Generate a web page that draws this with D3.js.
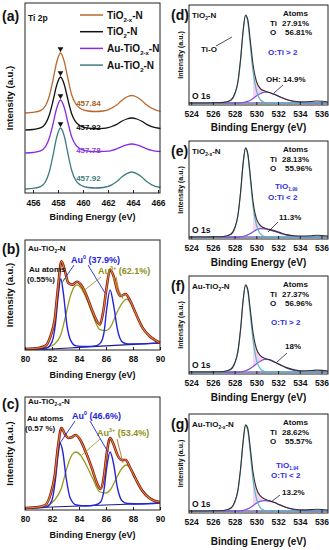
<!DOCTYPE html>
<html>
<head>
<meta charset="utf-8">
<script src="https://cdn.jsdelivr.net/npm/d3@7"></script>
<style>
  body { margin: 0; background: #fff; }
  text { font-family: "Liberation Sans", Arial, sans-serif; font-weight: bold; }
</style>
</head>
<body>
<svg id="fig" width="329" height="550"></svg>
<script>
// ---- panel (a): Ti 2p spectra, stacked ----
const tiEnergy = [455.4, 456.0, 456.6, 457.0, 457.3, 457.6, 457.9, 458.2, 458.5, 458.8, 459.1, 459.4, 459.8, 460.4, 461.0, 461.6, 462.0, 462.3, 462.7, 463.1, 463.5, 463.9, 464.3, 464.7, 465.1, 465.5, 466.2];
const tiO2xN = [80, 80.6, 82.4, 87.2, 96.8, 113, 131, 140, 131.5, 114, 98, 89.5, 84.5, 82, 81.5, 82, 83.2, 85, 88, 92.5, 96, 97.5, 96, 92.5, 88, 84.8, 81.5];
const tiO2N = [63, 63.5, 65.1, 69.4, 77.8, 92, 108, 116, 108.5, 93, 79, 71.4, 67, 64.8, 64.3, 64.6, 65.3, 66.5, 68.6, 71.7, 74, 75, 74, 71.7, 68.6, 66.4, 64.5];
const auTiO2xN = [40, 40.5, 42.1, 46.4, 54.8, 69, 85, 93, 85.5, 70, 56, 48.4, 44, 41.8, 41.3, 41.6, 41.8, 42.6, 44.2, 46.4, 48.2, 49, 48.2, 46.4, 44.2, 42.6, 41.3];
const auTiO2N = [4, 4.6, 6.4, 11.3, 21, 37.5, 56, 65, 57, 39, 22.5, 13, 8, 5.5, 5, 5.5, 6.6, 8.2, 11.4, 15.9, 19.4, 21, 19.4, 15.9, 11.4, 8.2, 5.5];
const tiPeakLabels = ["457.84", "457.92", "457.78", "457.92"];
const tiTicks = [456, 458, 460, 462, 464, 466];

// ---- panels (b), (c): Au 4f, [eV, intensity] ----
const bExp = [[80,1],[81,2],[81.5,4],[81.9,14],[82.2,30],[82.45,62],[82.7,87],[82.95,78],[83.2,66],[83.5,64],[83.85,67],[84.2,63],[84.6,52],[85.0,38],[85.3,29],[85.55,25],[85.8,38],[86.05,62],[86.3,79],[86.55,73],[86.85,58],[87.1,53],[87.45,55],[87.8,48],[88.2,36],[88.7,22],[89.2,14],[89.6,10],[90,7]];
const bAu0 = [[80,1],[81,1.2],[81.6,2],[82.0,8],[82.25,25],[82.45,52],[82.65,70],[82.85,55],[83.1,25],[83.4,9],[83.8,4],[84.5,3.5],[85.2,4],[85.6,7],[85.85,17],[86.05,40],[86.3,59],[86.55,45],[86.85,20],[87.2,8],[87.6,6],[88.5,6],[90,7]];
const bAu3 = [[80,1],[81,1.2],[81.6,2.5],[82.2,6],[82.7,17],[83.0,33],[83.3,50],[83.6,61],[83.85,64],[84.2,60],[84.6,49],[85.0,35],[85.55,20],[86.0,19],[86.3,22],[86.85,38],[87.2,46],[87.5,50],[87.8,47],[88.2,36],[88.7,23],[89.2,14],[90,8]];
const bBase = [[80,0.5],[82,1],[84,2.5],[86,4],[88,5.5],[90,7]];

const cExp = [[80,2],[81,3],[81.5,5],[81.9,16],[82.2,34],[82.45,64],[82.7,82],[82.95,76],[83.2,72],[83.5,73],[83.75,75],[84.1,70],[84.5,58],[85.0,40],[85.3,28],[85.6,21],[85.85,34],[86.05,56],[86.3,72],[86.55,66],[86.85,55],[87.15,50],[87.45,50],[87.8,42],[88.2,31],[88.7,19],[89.2,12],[89.6,9],[90,8]];
const cAu0 = [[80,2],[81,2.2],[81.6,3],[82.0,10],[82.25,30],[82.45,55],[82.6,67],[82.8,58],[83.05,32],[83.35,12],[83.8,5],[84.5,4],[85.2,5],[85.6,8],[85.85,20],[86.05,42],[86.3,58],[86.55,47],[86.85,22],[87.2,9],[87.6,6.5],[88.5,6],[90,7]];
const cAu3 = [[80,2],[81,2.3],[81.6,4],[82.2,10],[82.7,22],[83.0,37],[83.3,50],[83.6,57],[83.8,58],[84.1,55],[84.5,46],[85.0,32],[85.55,18],[86.0,17],[86.3,20],[86.85,34],[87.2,42],[87.5,45],[87.8,42],[88.2,32],[88.7,20],[89.2,13],[90,8]];
const cBase = [[80,2],[82,3],[84,4],[86,5],[88,6],[90,7]];
const auTicks = [80, 82, 84, 86, 88, 90];

// ---- panels (d)-(g): O 1s ----
const oEnergy = [523.8, 525, 526, 527, 527.6, 528.0, 528.3, 528.55, 528.8, 529.0, 529.2, 529.45, 529.7, 530.0, 530.4, 530.8, 531.2, 531.7, 532.2, 532.8, 533.5, 534.2, 535, 535.6, 536.6];
const dEnv  = [2, 2, 2.2, 2.6, 4.5, 11, 23, 46, 76, 90, 86, 64, 40, 24, 16, 14, 12.5, 10.5, 8, 5.5, 3.8, 3.2, 3.5, 4, 3];
const dTiO  = [2, 2, 2, 2.5, 4.3, 10.5, 22, 45, 75, 89, 84, 59, 33, 15, 5, 2.5, 2, 2, 2, 2, 2, 2, 2, 2, 2];
const dOH   = [2, 2, 2, 2, 2, 2, 2, 2.2, 2.5, 3, 3.6, 4.8, 6.5, 9, 11.5, 12.8, 12.5, 10.5, 8, 5.3, 3.4, 2.4, 2, 2, 2];
const eEnv  = [2, 2, 2.2, 2.6, 4.5, 11, 24, 48, 79, 93, 88, 64, 38, 21, 13.5, 11, 9.8, 8.3, 6.5, 4.5, 3.3, 3, 3.3, 3.8, 3];
const eTiO  = [2, 2, 2, 2.5, 4.3, 10.5, 23, 47, 78, 92, 87, 61, 33, 15, 5, 2.5, 2, 2, 2, 2, 2, 2, 2, 2, 2];
const eOH   = [2, 2, 2, 2, 2, 2, 2, 2.3, 2.7, 3.3, 4.2, 5.6, 7.3, 9.3, 10.5, 10.3, 9.3, 7.6, 5.8, 4, 2.8, 2.2, 2, 2, 2];
const fEnv  = [2, 2, 2.2, 2.6, 4.5, 11, 23, 46, 77, 91, 87, 65, 42, 26, 18.5, 16, 14.5, 12, 9.5, 6.5, 4.2, 3.3, 3.5, 4, 3];
const fTiO  = [2, 2, 2, 2.5, 4.3, 10.5, 22, 45, 76, 90, 85, 60, 34, 15, 5, 2.5, 2, 2, 2, 2, 2, 2, 2, 2, 2];
const fOH   = [2, 2, 2, 2, 2, 2, 2, 2.3, 2.7, 3.3, 4.2, 5.6, 7.6, 10.3, 13.3, 15, 14.6, 12.3, 9.3, 6, 3.6, 2.5, 2, 2, 2];
const gEnv  = [2, 2, 2.2, 2.6, 4.5, 11, 23, 45, 74, 89, 86, 65, 41, 25, 17, 14, 12.5, 10.5, 8, 5.5, 3.8, 3.2, 3.4, 3.8, 3];
const gTiO  = [2, 2, 2, 2.5, 4.3, 10.5, 22, 44, 73, 88, 84, 60, 33, 15, 5, 2.5, 2, 2, 2, 2, 2, 2, 2, 2, 2];
const gOH   = [2, 2, 2, 2, 2, 2, 2, 2.3, 2.7, 3.3, 4.2, 5.6, 7.4, 9.8, 12, 12.6, 12, 10.3, 8, 5.3, 3.4, 2.4, 2, 2, 2];
const oTicks = [524, 526, 528, 530, 532, 534, 536];

const svg = d3.select("#fig");

// text with sub/superscript parts: "plain" or ["2-x","sub"] / ["0","sup"]
function txt(x, y, parts, size, color, anchor) {
  const t = svg.append("text").attr("x", x).attr("y", y)
    .attr("font-size", size).attr("fill", color || "#111");
  if (anchor) t.attr("text-anchor", anchor);
  let shift = 0;
  for (const p of parts) {
    const s = typeof p === "string" ? p : p[0];
    const kind = typeof p === "string" ? "" : p[1];
    const target = kind === "sub" ? size * 0.3 : kind === "sup" ? -size * 0.4 : 0;
    const sp = t.append("tspan").text(s).attr("dy", target - shift);
    if (kind) sp.attr("font-size", size * 0.6);
    shift = target;
  }
  return t;
}

function seg(x1, y1, x2, y2, color, w) {
  svg.append("line").attr("x1", x1).attr("y1", y1).attr("x2", x2).attr("y2", y2)
    .attr("stroke", color).attr("stroke-width", w || 1);
}

function drawLine(data, x, y, color, w) {
  const line = d3.line().x(d => x(d[0])).y(d => y(d[1])).curve(d3.curveMonotoneX);
  svg.append("path").attr("d", line(data)).attr("fill", "none")
    .attr("stroke", color).attr("stroke-width", w).attr("stroke-linejoin", "round");
}

function frameAndAxis(x, y, box, ticks, minor, opt) {
  const g = svg.append("g").attr("transform", `translate(0,${box.bottom})`);
  g.call(d3.axisBottom(x).tickValues(minor).tickSize(-2).tickFormat(""));
  g.call(d3.axisBottom(x).tickValues(ticks).tickSizeInner(-3).tickSizeOuter(0)
    .tickPadding(opt.pad).tickFormat(d3.format("d")));
  g.select(".domain").remove();
  g.selectAll("line").attr("stroke", "#222");
  g.selectAll("text").attr("font-size", opt.tickSize).attr("fill", "#111")
    .attr("font-family", "'Liberation Sans', Arial, sans-serif").attr("font-weight", "bold");
  svg.append("rect").attr("x", box.left).attr("y", box.top)
    .attr("width", box.right - box.left).attr("height", box.bottom - box.top)
    .attr("fill", "none").attr("stroke", "#222").attr("stroke-width", 1);
  txt((box.left + box.right) / 2, box.bottom + opt.titleOff, ["Binding Energy (eV)"], opt.titleSize, "#111", "middle");
  txt(0, 0, ["Intensity (a.u.)"], opt.ySize, "#111", "middle")
    .attr("transform", `translate(${opt.yLabelX},${(box.top + box.bottom) / 2 + (opt.yShift || 0)}) rotate(-90)`);
}

// ================= (a) =================
{
  const box = { left: 25, right: 160, top: 3, bottom: 193 };
  const x = d3.scaleLinear().domain([455.36, 466.16]).range([box.left, box.right]);
  const y = d3.scaleLinear().domain([0, 190]).range([box.bottom, box.top]);
  const series = [tiO2xN, tiO2N, auTiO2xN, auTiO2N];
  const colors = ["#b9692f", "#111111", "#8a2be2", "#3f7c80"];
  const textColors = ["#a0622a", "#111111", "#8a3fe0", "#3f8080"];
  series.forEach((s, i) => {
    drawLine(tiEnergy.map((e, k) => [e, s[k]]), x, y, colors[i], 1.3);
    const peak = d3.max(s);
    const pe = tiEnergy[s.indexOf(peak)];
    svg.append("path").attr("d", d3.symbol(d3.symbolTriangle, 14)())
      .attr("transform", `translate(${x(pe)},${y(peak) - 4}) rotate(180)`).attr("fill", "#111");
    txt(x(459.45), y(peak) + 53, [tiPeakLabels[i]], 8, textColors[i]);
  });
  frameAndAxis(x, y, box, tiTicks, d3.range(457, 466, 2),
    { pad: 7, tickSize: 8.5, titleOff: 27, titleSize: 9, ySize: 9.5, yLabelX: 13, yShift: 0 });
  // legend
  const legend = [
    ["TiO", ["2-x", "sub"], "-N"],
    ["TiO", ["2", "sub"], "-N"],
    ["Au-TiO", ["2-x", "sub"], "-N"],
    ["Au-TiO", ["2", "sub"], "-N"]
  ];
  legend.forEach((parts, i) => {
    const ly = 15 + i * 16.7;
    seg(80, ly, 103, ly, colors[i], 1.5);
    txt(107, ly + 3.5, parts, 10, "#111");
  });
  txt(2, 21, ["(a)"], 14, "#111");
  txt(28, 21, ["Ti 2p"], 8.5, "#111");
}

// ================= (b), (c) =================
function auPanel(box, exp, au0, au3, base, yMax, labels) {
  const x = d3.scaleLinear().domain([80, 90]).range([box.left, box.right]);
  const y = d3.scaleLinear().domain([0, yMax]).range([box.bottom, box.top]);
  drawLine(base, x, y, "#1c1c80", 1.2);
  drawLine(au3, x, y, "#9a9a22", 1.3);
  drawLine(au0, x, y, "#2323dd", 1.4);
  drawLine(exp, x, y, "#8a1414", 2.6);
  drawLine(exp, x, y, "#d8893a", 1.1);
  frameAndAxis(x, y, box, auTicks, d3.range(81, 90, 2),
    { pad: 6, tickSize: 8.5, titleOff: 28, titleSize: 9, ySize: 9.5, yLabelX: 13, yShift: 0 });
  const L = labels;
  txt(2, L.tag[1], [L.tag[0]], 14, "#111");
  txt(28, L.name[1], L.name[0], 8, "#111");
  txt(L.atoms[0], L.atoms[1], ["Au atoms"], 8, "#111");
  txt(L.atoms[0] - 2, L.atoms[1] + 9.5, [L.atoms[2]], 8, "#111");
  txt(L.au0[0], L.au0[1], ["Au", ["0", "sup"], " (" + L.au0[2] + ")"], 9, "#2323dd");
  txt(L.au3[0], L.au3[1], ["Au", ["3+", "sup"], " (" + L.au3[2] + ")"], 9, "#8f8f18");
  L.lines.forEach(l => seg(l[0], l[1], l[2], l[3], l[4], 0.9));
}

auPanel({ left: 25, right: 160, top: 240, bottom: 350 }, bExp, bAu0, bAu3, bBase, 108, {
  tag: ["(b)", 254],
  name: [["Au-TiO", ["2", "sub"], "-N"], 251],
  atoms: [29, 272, "(0.55%)"],
  au0: [71, 263, "37.9%"],
  au3: [98, 274, "62.1%"],
  lines: [[74, 265, 63, 281, "#2323dd"], [88, 265, 105, 293, "#2323dd"],
          [101, 277, 82, 292, "#9a9a22"], [113, 277, 123, 299, "#9a9a22"],
          [116, 277, 119, 292, "#c06a2a"], [62, 283, 66, 277, "#2a9a2a"]]
});

auPanel({ left: 25, right: 160, top: 397, bottom: 510 }, cExp, cAu0, cAu3, cBase, 113, {
  tag: ["(c)", 409],
  name: [["Au-TiO", ["2-x", "sub"], "-N"], 404],
  atoms: [27, 421, "(0.57 %)"],
  au0: [72, 419, "46.6%"],
  au3: [97, 436, "53.4%"],
  lines: [[75, 421, 60, 443, "#2323dd"], [90, 421, 108, 452, "#2323dd"],
          [100, 439, 82, 455, "#9a9a22"], [117, 439, 123, 463, "#c06a2a"]]
});

// ================= (d)-(g) =================
function oPanel(box, env, tio, oh, L) {
  const x = d3.scaleLinear().domain([523.8, 536.6]).range([box.left, box.right]);
  const y = d3.scaleLinear().domain([0, 100]).range([box.bottom, box.top]);
  const pts = s => oEnergy.map((e, k) => [e, s[k]]);
  const area = d3.area().x(d => x(d[0])).y0(d => y(d[1][1])).y1(d => y(d[1][0])).curve(d3.curveMonotoneX);
  const fill = oEnergy.map((e, k) => [e, [env[k], Math.min(oh[k], env[k])]]).filter(d => d[0] >= 529.7 && d[0] <= 533.5);
  svg.append("path").attr("d", area(fill)).attr("fill", "#f4c8ee").attr("opacity", 0.8);
  drawLine(pts(oEnergy.map(() => 2)), x, y, "#26267a", 1);
  drawLine(pts(oh), x, y, "#7f4fe0", 1.2);
  drawLine(pts(tio), x, y, "#5cb4c6", 1.2);
  drawLine(pts(env), x, y, "#3a2f2f", 1.1);
  frameAndAxis(x, y, box, oTicks, d3.range(525, 537, 2),
    { pad: 6, tickSize: 8.5, titleOff: L.titleOff, titleSize: 10, ySize: 7, yLabelX: 183, yShift: 0 });
  txt(171, box.top + 15, [L.tag], 14, "#111");
  txt(192, box.top + 13, L.name, 8, "#111");
  txt(283, box.top + 11, ["Atoms"], 8, "#111");
  txt(270, box.top + 21, ["Ti"], 8, "#111");
  txt(282, box.top + 21, [L.ti], 8, "#111");
  txt(270, box.top + 30, ["O"], 8, "#111");
  txt(285, box.top + 30, [L.o], 8, "#111");
  L.blue.forEach(b => txt(b[0], box.top + b[1], b[2], 8, "#3030e8"));
  L.notes.forEach(n => txt(n[0], box.top + n[1], [n[2]], 8, "#111"));
  L.lines.forEach(l => seg(l[0], box.top + l[1], l[2], box.top + l[3], "#222", 0.8));
  txt(192, box.bottom - 6, ["O 1s"], 8.5, "#111");
}

oPanel({ left: 189, right: 328, top: 5, bottom: 105 }, dEnv, dTiO, dOH, {
  tag: "(d)", name: ["TiO", ["2", "sub"], "-N"], ti: "27.91%", o: "56.81%", titleOff: 26,
  blue: [[268, 50, ["O:Ti > 2"]]],
  notes: [[201, 47, "Ti-O"], [266, 77, "OH: 14.9%"]],
  lines: [[216, 41, 232, 32], [283, 80, 274, 88]]
});
oPanel({ left: 189, right: 328, top: 141, bottom: 239 }, eEnv, eTiO, eOH, {
  tag: "(e)", name: ["TiO", ["2-x", "sub"], "-N"], ti: "28.13%", o: "55.96%", titleOff: 27,
  blue: [[275, 48, ["TiO", ["1.99", "sub"]]], [268, 59, ["O:Ti < 2"]]],
  notes: [[279, 79, "11.3%"]],
  lines: [[278, 81, 268, 91]]
});
oPanel({ left: 189, right: 328, top: 276, bottom: 374 }, fEnv, fTiO, fOH, {
  tag: "(f)", name: ["Au-TiO", ["2", "sub"], "-N"], ti: "27.37%", o: "56.96%", titleOff: 27,
  blue: [[271, 49, ["O:Ti > 2"]]],
  notes: [[285, 73, "18%"]],
  lines: [[287, 77, 277, 86]]
});
oPanel({ left: 189, right: 328, top: 414, bottom: 513 }, gEnv, gTiO, gOH, {
  tag: "(g)", name: ["Au-TiO", ["2-x", "sub"], "-N"], ti: "28.62%", o: "55.57%", titleOff: 32,
  blue: [[276, 54, ["TiO", ["1.94", "sub"]]], [271, 64, ["O:Ti < 2"]]],
  notes: [[282, 81, "13.2%"]],
  lines: [[280, 81, 271, 88]]
});
</script>
</body>
</html>
